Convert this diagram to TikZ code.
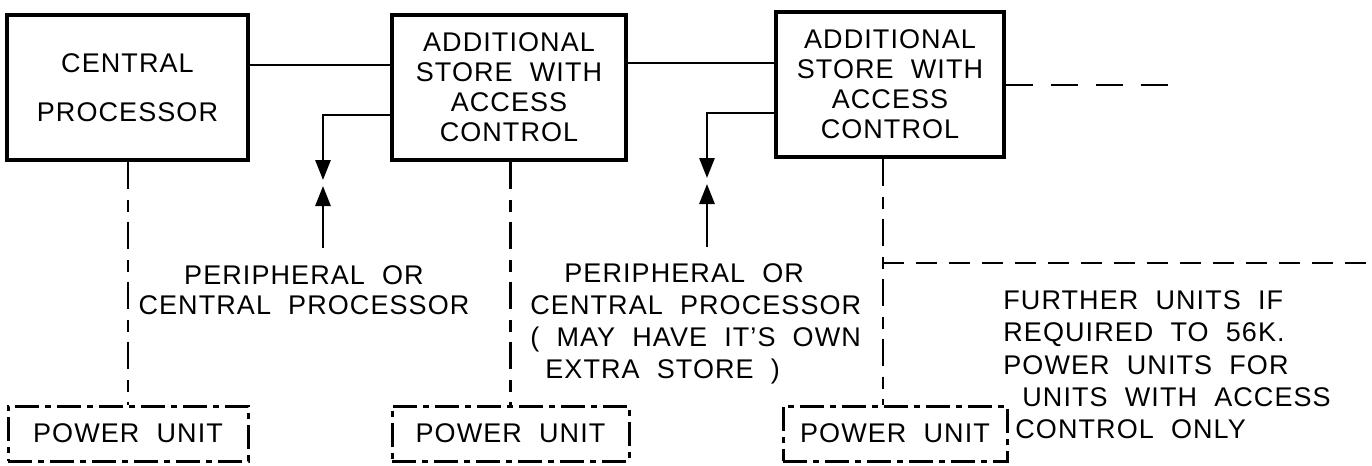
\documentclass[tikz,border=0pt]{standalone}
\usepackage{fontspec}
\setmainfont{Liberation Sans}[LetterSpace=4,WordSpace=2]
\usetikzlibrary{arrows.meta}
\tikzset{
  txt/.style={font=\fontsize{13.5}{15}\selectfont},
  box/.style={draw,line width=1.6pt,inner sep=0pt,align=center,txt},
  pubox/.style={draw,line width=1.5pt,inner sep=0pt,dash pattern=on 12pt off 3pt on 3pt off 3pt,
    minimum height=27.5pt,txt},
  conn/.style={line width=1.4pt},
  pwr/.style={line width=1.4pt,dash pattern=on 13.5pt off 5.5pt on 6pt off 5pt},
  ext/.style={line width=1.4pt,dash pattern=on 13.5pt off 9pt},
  further/.style={line width=1.3pt,dash pattern=on 10.5pt off 6pt},
  tip/.style={-{Triangle[length=10pt,width=7.5pt]}},
  lbl/.style={inner sep=0pt,txt}
}
\begin{document}
\begin{tikzpicture}[x=0.5pt,y=-0.5pt]
\useasboundingbox (0,0) rectangle (1372,466);
% main boxes
\node[box,minimum width=120.5pt,minimum height=72.5pt,font=\fontsize{13.5}{24.5}\selectfont] (CP) at (127.5,87.5) {CENTRAL\\PROCESSOR};
\node[box,minimum width=117pt,minimum height=72.5pt] (AS1) at (509,87.5) {ADDITIONAL\\STORE WITH\\ACCESS\\CONTROL};
\node[box,minimum width=114pt,minimum height=72.5pt] (AS2) at (890,84.5) {ADDITIONAL\\STORE WITH\\ACCESS\\CONTROL};
% power units
\node[pubox,minimum width=120pt] (PU1) at (128,433.5) {POWER UNIT};
\node[pubox,minimum width=118.5pt] (PU2) at (510.5,433.5) {POWER UNIT};
\node[pubox,minimum width=112pt] (PU3) at (895,433.5) {POWER UNIT};
% helper coordinates
\coordinate (h1) at (0,65);
\coordinate (h2) at (0,63);
\coordinate (h3) at (0,85);
\coordinate (extend) at (1170,85);
\coordinate (pa) at (323,115);
\coordinate (pb) at (707,113);
\coordinate (ta1) at (323,180);
\coordinate (tb1) at (323,186);
\coordinate (ea) at (323,248);
\coordinate (ta2) at (707,178);
\coordinate (tb2) at (707,184);
\coordinate (eb) at (707,247);
\coordinate (fy) at (0,263);
\coordinate (fend) at (1372,263);
% bus lines
\draw[conn] (CP.east |- h1) -- (AS1.west |- h1);
\draw[conn] (AS1.east |- h2) -- (AS2.west |- h2);
\draw[ext] (AS2.east |- h3) -- (extend);
% peripheral connections
\draw[conn,tip] (AS1.west |- pa) -| (ta1);
\draw[conn,tip] (ea) -- (tb1);
\draw[conn,tip] (AS2.west |- pb) -| (ta2);
\draw[conn,tip] (eb) -- (tb2);
% power lines
\draw[pwr] (CP.south -| PU1.north) -- (PU1.north);
\draw[pwr] (AS1.south -| PU2.north) -- (PU2.north);
\draw[pwr] ([xshift=-3.5pt]AS2.south) -- ([xshift=-3.5pt]AS2.south |- PU3.north);
\draw[further] ([xshift=-3.5pt]AS2.south |- fy) -- (fend);
% labels
\node[lbl,anchor=north,align=center,font=\fontsize{13.5}{15}\selectfont] (L1) at (304,265) {PERIPHERAL OR\\CENTRAL PROCESSOR};
\node[lbl,anchor=north west,align=left,font=\fontsize{13.5}{16}\selectfont] (L2) at (530,263) {\hspace*{17pt}PERIPHERAL OR\\CENTRAL PROCESSOR\\( MAY HAVE IT'S OWN\\\hspace*{7.5pt}EXTRA STORE )};
\node[lbl,anchor=north west,align=left,font=\fontsize{13.5}{16.2}\selectfont] (L3) at (1003,290) {FURTHER UNITS IF\\REQUIRED TO 56K.\\POWER UNITS FOR\\\hspace*{9.5pt}UNITS WITH ACCESS\\\hspace*{6pt}CONTROL ONLY};
\end{tikzpicture}
\end{document}
